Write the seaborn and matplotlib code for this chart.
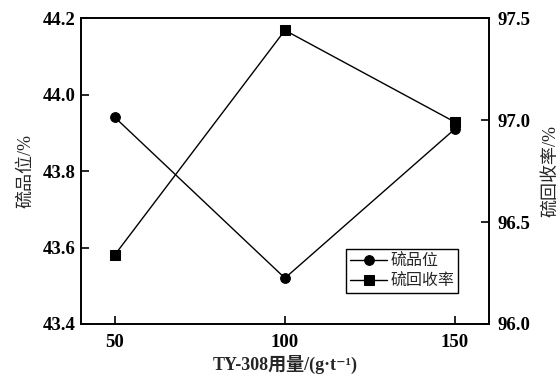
import matplotlib
matplotlib.use("Agg")
import matplotlib.pyplot as plt
import seaborn as sns
import pandas as pd

dosage = [50, 100, 150]
grade = [43.94, 43.52, 43.91]
recovery = [96.34, 97.44, 96.99]
x_ticks = [50, 100, 150]
left_ticks = [43.4, 43.6, 43.8, 44.0, 44.2]
right_ticks = [96.0, 96.5, 97.0, 97.5]

sns.set_theme(style="ticks")
plt.rcParams['font.family'] = ['Liberation Serif', 'DejaVu Serif', 'Noto Sans CJK SC']

df = pd.DataFrame({"dosage": dosage, "grade": grade, "recovery": recovery})

fig = plt.figure(figsize=(5.6, 3.76), dpi=100)
ax = fig.add_axes([0.1446, 0.1383, 0.7284, 0.8137])
ax2 = ax.twinx()

sns.lineplot(data=df, x="dosage", y="grade", ax=ax, color="black", marker="o",
             markersize=7, linewidth=1.0, markeredgecolor="black", label="硫品位", legend=False)
sns.lineplot(data=df, x="dosage", y="recovery", ax=ax2, color="black", marker="s",
             markersize=6.5, linewidth=1.0, markeredgecolor="black", label="硫回收率", legend=False)

ax.set_xlim(40, 160)
ax.set_ylim(43.4, 44.2)
ax2.set_ylim(96.0, 97.5)
ax.set_xticks(x_ticks)
ax.set_yticks(left_ticks)
ax2.set_yticks(right_ticks)
ax.set_xticklabels([str(v) for v in x_ticks])
ax.set_yticklabels([f"{v:.1f}" for v in left_ticks])
ax2.set_yticklabels([f"{v:.1f}" for v in right_ticks])

for a in (ax, ax2):
    for s in a.spines.values():
        s.set_color("black")
        s.set_linewidth(1.2)
        s.set_visible(True)
    for lab in a.get_xticklabels() + a.get_yticklabels():
        lab.set_fontweight("bold")
        lab.set_fontsize(13.5)
        lab.set_family(['Liberation Serif'])

ax.tick_params(axis="y", direction="in", length=6, width=1.2, colors="black", pad=4)
ax.tick_params(axis="x", direction="in", length=6, width=1.2, colors="black", pad=7)
ax2.tick_params(axis="y", direction="in", length=6, width=1.2, colors="black", pad=6)

ax.set_xlabel("TY-308用量/(g·t\u207b\u00b9)", fontsize=13, fontweight="bold",
              family=['Liberation Serif', 'DejaVu Serif', 'Noto Sans CJK SC'], labelpad=3)
ax.set_ylabel("硫品位/%", fontsize=13, family=['Liberation Serif', 'Noto Sans CJK SC'], labelpad=6)
ax2.set_ylabel("硫回收率/%", fontsize=13, family=['Liberation Serif', 'Noto Sans CJK SC'], labelpad=9)

h1, l1 = ax.get_legend_handles_labels()
h2, l2 = ax2.get_legend_handles_labels()
leg = ax2.legend(h1 + h2, ["硫品位", "硫回收率"], loc="lower right",
                 bbox_to_anchor=(0.925, 0.1), frameon=True, fancybox=False,
                 edgecolor="black", framealpha=1, handlelength=2.3,
                 handletextpad=0.2, borderpad=0.25, labelspacing=0.15,
                 borderaxespad=0.0,
                 prop={'family': ['Noto Sans CJK SC'], 'size': 11.5})
leg.get_frame().set_linewidth(1.0)

fig.savefig("out.png", dpi=100)
